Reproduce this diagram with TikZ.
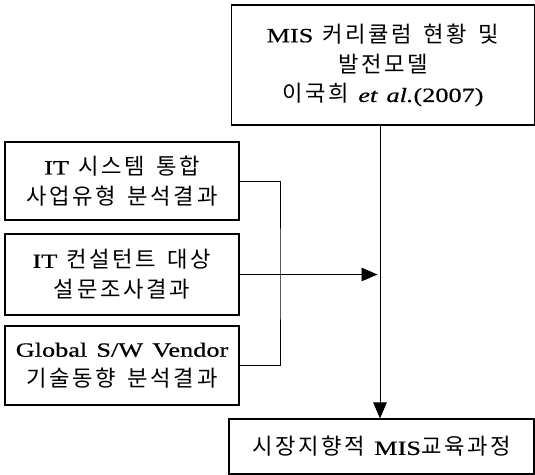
\documentclass[tikz,border=0pt]{standalone}
\usepackage{fontspec}
\setmainfont{Liberation Serif}[FakeStretch=1.3,FakeBold=0.6,WordSpace=1.4]
\newfontfamily\kr[Scale=1.1,LetterSpace=12,WordSpace=1.5]{Noto Sans CJK KR}
\usepackage{tikz}
\usetikzlibrary{positioning,arrows.meta}

\begin{document}
\begin{tikzpicture}[font=\fontsize{11.5}{17}\selectfont,
  box/.style={draw, line width=0.65pt, align=center, inner sep=0pt},
  src/.style={box, minimum width=4.68cm},
  link/.style={line width=0.5pt},
  arr/.style={link, -{Triangle[length=0.32cm,width=0.27cm]}}]
  \useasboundingbox (0,0) rectangle (10.7,-9.5);
  \node[box, minimum width=6.05cm, minimum height=2.4cm] (model) at (7.66,-1.3)
    {MIS {\kr 커리큘럼 현황 및}\\{\kr 발전모델}\\{\kr 이국희} \textit{et al.}(2007)};
  \node[src, minimum height=1.56cm] (sys) at (2.44,-3.62) {IT {\kr 시스템 통합}\\{\kr 사업유형 분석결과}};
  \node[src, minimum height=1.62cm] (cons) at (2.44,-5.49) {IT {\kr 컨설턴트 대상}\\{\kr 설문조사결과}};
  \node[src, minimum height=1.58cm] (vend) at (2.44,-7.31) {Global S/W Vendor\\{\kr 기술동향 분석결과}};
  \node[box, minimum width=6.1cm, minimum height=1.1cm] (goal) at (7.63,-8.93) {{\kr 시장지향적} MIS{\kr 교육과정}};
  \coordinate (jn) at (5.6,-5.49);
  \coordinate (tip) at (7.55,-5.49);
  \coordinate (tr) at (7.6,0);
  \draw[link] (sys.east) -| (jn) |- (vend.east);
  \draw[arr] (cons.east) -- (jn) -- (tip);
  \draw[arr] (model.south -| tr) -- (goal.north -| tr);
\end{tikzpicture}
\end{document}
